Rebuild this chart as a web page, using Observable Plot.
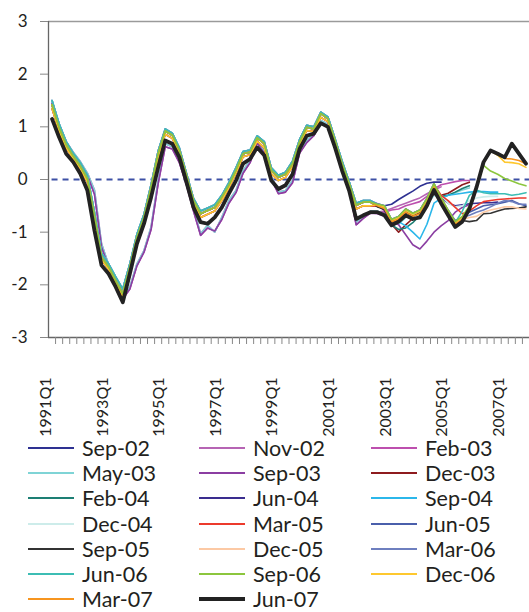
<!DOCTYPE html>
<html><head><meta charset="utf-8">
<script src="https://cdn.jsdelivr.net/npm/d3@7"></script>
<script src="https://cdn.jsdelivr.net/npm/@observablehq/plot@0.6"></script>
<style>
body{margin:0;background:#fff;font-family:Lato,"Open Sans",sans-serif;overflow:hidden;}
#chart svg{display:block;overflow:visible}
#legend{position:relative;width:529px;height:182px;}
.item{position:absolute;display:flex;align-items:center;height:24px;line-height:24px;font-size:21.5px;color:#231f20;white-space:nowrap}
.sw{width:46px;margin-right:8px}
</style></head><body>
<div id="chart"></div><div id="legend"></div>
<script>
// Vintages (legend order) and colours
const vintages = ["Sep-02","Nov-02","Feb-03","May-03","Sep-03","Dec-03","Feb-04","Jun-04","Sep-04","Dec-04","Mar-05","Jun-05","Sep-05","Dec-05","Mar-06","Jun-06","Sep-06","Dec-06","Mar-07","Jun-07"];
const colors = ["#2e3192","#b664b4","#bd4fae","#7fd4d6","#8b3ea2","#8e1b1e","#1d7f74","#3a2d8f","#2bb7ea","#cdecea","#ec3a2c","#4a5fab","#333333","#fcc9a4","#6e7fbf","#3cbdb4","#8cc63e","#fec82f","#f7951f","#222222"];

// Tick labels (every 8th quarter, starting 1991Q1)
const labelQuarters = [0,8,16,24,32,40,48,56,64];
const labelText = ["1991Q1","1993Q1","1995Q1","1997Q1","1999Q1","2001Q1","2003Q1","2005Q1","2007Q1"];

// Historical part, 1991Q1..2002Q2 (quarter 0..45), read at levels of the bundle
const hTop = [1.5,1.06,0.72,0.5,0.32,0.08,-0.62,-1.4,-1.6,-1.85,-2.08,-1.6,-1.04,-0.66,-0.1,0.54,0.96,0.88,0.6,0.12,-0.36,-0.6,-0.54,-0.48,-0.3,-0.06,0.22,0.53,0.56,0.83,0.72,0.22,0.08,0.14,0.35,0.76,1.03,1.0,1.28,1.19,0.78,0.35,-0.04,-0.45,-0.4,-0.4];
const hMid = [1.42,0.98,0.66,0.44,0.25,0.01,-0.7,-1.47,-1.66,-1.92,-2.17,-1.66,-1.1,-0.72,-0.15,0.49,0.92,0.84,0.55,0.08,-0.4,-0.65,-0.59,-0.53,-0.34,-0.11,0.17,0.49,0.52,0.79,0.68,0.17,0.04,0.1,0.3,0.71,0.99,0.96,1.25,1.15,0.74,0.3,-0.08,-0.49,-0.43,-0.43];
const hLow = [1.35,0.92,0.6,0.39,0.2,-0.05,-0.77,-1.52,-1.71,-1.97,-2.22,-1.72,-1.16,-0.78,-0.22,0.42,0.86,0.78,0.5,0.03,-0.45,-0.72,-0.66,-0.6,-0.4,-0.16,0.12,0.43,0.47,0.73,0.6,0.11,-0.02,0.04,0.24,0.66,0.93,0.91,1.18,1.1,0.68,0.24,-0.13,-0.56,-0.5,-0.5];
const hLag = [1.47,1.04,0.72,0.52,0.34,0.12,-0.2,-1.22,-1.62,-1.95,-2.24,-2.04,-1.6,-1.35,-0.9,-0.02,0.68,0.62,0.36,-0.05,-0.55,-1.03,-0.87,-1.0,-0.72,-0.4,-0.21,0.17,0.36,0.74,0.55,0.05,-0.24,-0.21,-0.02,0.55,0.74,0.87,1.12,1.05,0.65,0.22,-0.15,-0.81,-0.7,-0.6];
const hLag2 = [1.44,1.0,0.68,0.48,0.3,0.08,-0.28,-1.28,-1.66,-1.98,-2.27,-2.08,-1.64,-1.38,-0.95,-0.08,0.62,0.58,0.32,-0.1,-0.6,-1.06,-0.92,-0.98,-0.76,-0.45,-0.25,0.12,0.32,0.7,0.5,0.0,-0.27,-0.24,-0.06,0.5,0.7,0.83,1.08,1.02,0.62,0.2,-0.18,-0.86,-0.74,-0.64];

// Tails from 2002Q3 (quarter 46) to each vintage's last quarter
const tSep02 = [-0.5,-0.5,-0.47,-0.38,-0.3,-0.22,-0.13,-0.07,-0.05,-0.05];
const tNov02 = [-0.62,-0.6,-0.55,-0.5,-0.45,-0.4,-0.35,-0.27,-0.2,-0.14];
const tFeb03 = [-0.64,-0.62,-0.58,-0.56,-0.5,-0.46,-0.42,-0.32,-0.18,-0.1,-0.07,-0.04,-0.02,-0.02];
const tMay03 = [-0.6,-0.66,-0.82,-0.85,-0.72,-0.66,-0.62,-0.48,-0.3,-0.34,-0.3,-0.25,-0.2,-0.16];
const tSep03 = [-0.65,-0.7,-0.78,-0.86,-1.05,-1.24,-1.32,-1.17,-1.0,-0.88,-0.78,-0.62,-0.53,-0.48];
const tDec03 = [-0.5,-0.58,-0.85,-1.0,-0.86,-0.74,-0.62,-0.4,-0.28,-0.3,-0.26,-0.18,-0.1,-0.05];
const tFeb04 = [-0.48,-0.56,-0.86,-0.95,-0.92,-0.82,-0.68,-0.45,-0.2,-0.32,-0.3,-0.24,-0.17,-0.12];
const tJun04 = [-0.5,-0.58,-0.82,-0.78,-0.62,-0.7,-0.62,-0.4,-0.12,-0.35,-0.45,-0.5,-0.48,-0.46,-0.45,-0.44,-0.44,-0.43];
const tSep04 = [-0.47,-0.55,-0.78,-0.8,-0.88,-1.0,-1.13,-0.85,-0.45,-0.36,-0.3,-0.28,-0.26,-0.24,-0.23,-0.23,-0.24,-0.24];
const tDec04 = [-0.46,-0.5,-0.75,-0.7,-0.55,-0.68,-0.75,-0.42,-0.1,-0.3,-0.45,-0.52,-0.5,-0.4,-0.35,-0.33,-0.32,-0.32];
const tMar05 = [-0.5,-0.55,-0.8,-0.74,-0.6,-0.67,-0.62,-0.38,-0.1,-0.3,-0.4,-0.53,-0.65,-0.6,-0.5,-0.42,-0.4,-0.38,-0.37,-0.36,-0.35,-0.35];
const tJun05 = [-0.46,-0.5,-0.76,-0.7,-0.56,-0.64,-0.58,-0.36,-0.08,-0.36,-0.58,-0.78,-0.72,-0.62,-0.56,-0.5,-0.48,-0.46,-0.43,-0.4,-0.46,-0.5];
const tSep05 = [-0.52,-0.56,-0.82,-0.76,-0.62,-0.7,-0.64,-0.42,-0.14,-0.4,-0.64,-0.86,-0.78,-0.8,-0.78,-0.65,-0.64,-0.6,-0.56,-0.55,-0.54,-0.52];
const tDec05 = [-0.48,-0.52,-0.78,-0.72,-0.58,-0.66,-0.6,-0.38,-0.1,-0.38,-0.62,-0.84,-0.76,-0.72,-0.7,-0.62,-0.58,-0.55,-0.52,-0.52,-0.55,-0.56];
const tMar06 = [-0.46,-0.5,-0.76,-0.7,-0.56,-0.64,-0.58,-0.36,-0.08,-0.36,-0.6,-0.8,-0.72,-0.68,-0.62,-0.58,-0.52,-0.45,-0.4,-0.42,-0.47,-0.47];
const tJun06 = [-0.48,-0.52,-0.78,-0.72,-0.58,-0.66,-0.6,-0.38,-0.1,-0.36,-0.6,-0.82,-0.6,-0.3,-0.2,-0.25,-0.27,-0.27,-0.27,-0.3,-0.28,-0.25];
const tSep06 = [-0.47,-0.5,-0.76,-0.7,-0.56,-0.64,-0.58,-0.36,-0.08,-0.34,-0.58,-0.8,-0.7,-0.5,-0.15,0.27,0.16,0.1,0.02,-0.03,-0.08,-0.12];
const tDec06 = [-0.48,-0.52,-0.78,-0.72,-0.58,-0.66,-0.6,-0.38,-0.1,-0.36,-0.6,-0.82,-0.72,-0.52,-0.14,0.3,0.55,0.46,0.33,0.32,0.3,0.23];
const tMar07 = [-0.5,-0.55,-0.8,-0.75,-0.62,-0.7,-0.65,-0.44,-0.14,-0.4,-0.63,-0.85,-0.76,-0.54,-0.16,0.31,0.55,0.49,0.4,0.39,0.36,0.3];
const jun07 = [1.15,0.8,0.49,0.33,0.11,-0.21,-0.97,-1.63,-1.79,-2.04,-2.33,-1.79,-1.22,-0.84,-0.34,0.23,0.74,0.68,0.42,-0.05,-0.53,-0.81,-0.84,-0.72,-0.53,-0.27,-0.02,0.3,0.39,0.61,0.46,-0.02,-0.18,-0.11,0.1,0.58,0.83,0.87,1.07,1.0,0.61,0.17,-0.21,-0.75,-0.68,-0.62,
  -0.62,-0.68,-0.87,-0.8,-0.68,-0.75,-0.72,-0.5,-0.2,-0.45,-0.68,-0.9,-0.8,-0.56,-0.15,0.33,0.55,0.49,0.42,0.68,0.49,0.3];

const series = {
  "Sep-02": hTop.concat(tSep02), "Nov-02": hLag.concat(tNov02), "Feb-03": hLag2.concat(tFeb03),
  "May-03": hLag.concat(tMay03), "Sep-03": hLag2.concat(tSep03), "Dec-03": hMid.concat(tDec03),
  "Feb-04": hMid.concat(tFeb04), "Jun-04": hLow.concat(tJun04), "Sep-04": hTop.concat(tSep04),
  "Dec-04": hTop.concat(tDec04), "Mar-05": hLow.concat(tMar05), "Jun-05": hMid.concat(tJun05),
  "Sep-05": hMid.concat(tSep05), "Dec-05": hMid.concat(tDec05), "Mar-06": hTop.concat(tMar06),
  "Jun-06": hTop.concat(tJun06), "Sep-06": hMid.concat(tSep06), "Dec-06": hLow.concat(tDec06),
  "Mar-07": hMid.concat(tMar07), "Jun-07": jun07
};

// drawing order: legend order, green last among the coloured lines
const drawOrder = vintages.filter(v => v !== "Sep-06" && v !== "Jun-07").concat(["Sep-06"]);
const rows = [];
drawOrder.forEach(name => series[name].forEach((v, i) => rows.push({vintage: name, i, v})));
const blackRows = series["Jun-07"].map((v, i) => ({i, v}));
const labelRows = labelQuarters.map((q, k) => ({x: q - 0.5, label: labelText[k]}));
const tickBounds = d3.range(1, 68).map(k => k - 0.5);

const svg = Plot.plot({
  width: 529, height: 430,
  marginLeft: 48, marginRight: 0, marginTop: 21, marginBottom: 93,
  style: {fontFamily: "Lato, 'Open Sans', sans-serif", fontSize: "17px", color: "#231f20", background: "#fff", overflow: "visible"},
  x: {type: "linear", domain: [-0.5, 67.5], label: null},
  y: {domain: [-3, 3], label: null},
  color: {domain: vintages, range: colors},
  marks: [
    Plot.ruleY([3], {stroke: "#9a9a9a", strokeWidth: 1.3}),
    Plot.ruleY([0], {x1: 0, x2: 67.5, stroke: "#3d50a5", strokeWidth: 2, strokeDasharray: "6,5"}),
    Plot.line(rows, {x: "i", y: "v", z: "vintage", stroke: "vintage", strokeWidth: 1.6}),
    Plot.line(blackRows, {x: "i", y: "v", stroke: "#222", strokeWidth: 3.8}),
    Plot.ruleX([-0.5], {stroke: "#666", strokeWidth: 1.3}),
    Plot.ruleY([-3], {stroke: "#666", strokeWidth: 1.3}),
    Plot.axisY({ticks: [-3, -2, -1, 0, 1, 2, 3], tickSize: 8, tickPadding: 13, tickFormat: d => String(d), stroke: "#888", fill: "#231f20", fontSize: 17, label: null}),
    Plot.axisX(tickBounds, {tickSize: 7, tickFormat: () => "", stroke: "#888", label: null}),
    Plot.text(labelRows, {x: "x", frameAnchor: "bottom", text: "label", rotate: -90, textAnchor: "end", lineAnchor: "middle", dx: -2.5, dy: 40, fontSize: 16, fill: "#231f20"})
  ]
});
document.getElementById("chart").appendChild(svg);

// Legend (3 columns)
const legend = document.getElementById("legend");
const colLeft = [28, 199, 371];
vintages.forEach((name, k) => {
  const r = Math.floor(k / 3), c = k % 3;
  const item = document.createElement("div");
  item.className = "item";
  item.style.left = colLeft[c] + "px";
  item.style.top = Math.round(18 + 25.2 * r - 12) + "px";
  const sw = document.createElement("div");
  sw.className = "sw";
  sw.style.height = name === "Jun-07" ? "4px" : "2px";
  sw.style.background = colors[k];
  const tx = document.createElement("span");
  tx.textContent = name;
  item.appendChild(sw); item.appendChild(tx);
  legend.appendChild(item);
});
</script></body></html>
